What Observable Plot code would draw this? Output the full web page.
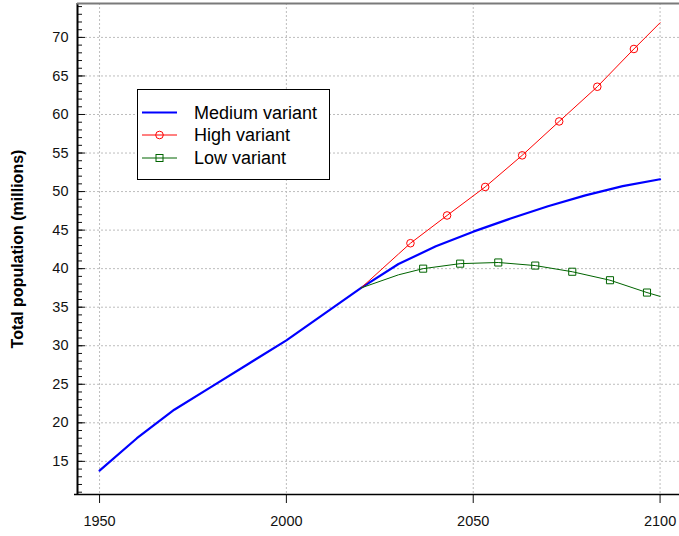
<!DOCTYPE html>
<html><head><meta charset="utf-8">
<script src="https://cdn.jsdelivr.net/npm/d3@7"></script>
<script src="https://cdn.jsdelivr.net/npm/@observablehq/plot@0.6"></script>
<style>
body{margin:0;background:#fff;}
#chart{position:relative;width:679px;height:536px;}
#chart svg text.tick{font-size:14.5px !important;font-family:'Liberation Sans', Arial, sans-serif !important;}
</style>
</head><body><div id="chart"></div>
<script>
// ---- data ----
const seriesNames = ["Medium variant", "High variant", "Low variant"];
const seriesColors = ["#0000ff", "#ff0000", "#006400"];

const mediumYears  = [1950, 1960, 1970, 1980, 1990, 2000, 2010, 2020, 2030, 2040, 2050, 2060, 2070, 2080, 2090, 2100];
const mediumValues = [13.8, 18.0, 21.7, 24.7, 27.7, 30.7, 34.1, 37.5, 40.6, 42.9, 44.8, 46.5, 48.1, 49.5, 50.7, 51.6];

const highLineYears  = [2020, 2030];
const highLineValues = [37.5, 41.9];
const highMarkerYears  = [2033.2, 2043.0, 2053.2, 2063.1, 2073.0, 2083.2, 2093.0];
const highMarkerValues = [43.3, 46.9, 50.6, 54.7, 59.1, 63.6, 68.5];
const highEndYear = 2100, highEndValue = 71.9;

const lowLineYears  = [2020, 2030];
const lowLineValues = [37.5, 39.2];
const lowMarkerYears  = [2036.6, 2046.5, 2056.7, 2066.6, 2076.5, 2086.6, 2096.5];
const lowMarkerValues = [40.0, 40.65, 40.8, 40.4, 39.6, 38.5, 36.9];
const lowEndYear = 2100, lowEndValue = 36.4;

const xTicks = [1950, 2000, 2050, 2100];
const yMajorTicks = [15, 20, 25, 30, 35, 40, 45, 50, 55, 60, 65, 70];
const yMinorTicks = d3.range(11, 75);
const xDomain = [1944.1, 2105.2];
const yDomain = [10.7, 74.4];
const yLabel = "Total population (millions)";

// ---- tables ----
const medium = mediumYears.map((y, i) => ({year: y, value: mediumValues[i]}));
const highMarkers = highMarkerYears.map((y, i) => ({year: y, value: highMarkerValues[i]}));
const lowMarkers = lowMarkerYears.map((y, i) => ({year: y, value: lowMarkerValues[i]}));
const high = highLineYears.map((y, i) => ({year: y, value: highLineValues[i]}))
  .concat(highMarkers, [{year: highEndYear, value: highEndValue}]);
const low = lowLineYears.map((y, i) => ({year: y, value: lowLineValues[i]}))
  .concat(lowMarkers, [{year: lowEndYear, value: lowEndValue}]);

const font = "'Liberation Sans', Arial, Helvetica, sans-serif";
const gridStyle = {stroke: "#bdbdbd", strokeOpacity: 1, strokeDasharray: "2,2", strokeWidth: 1};

const plot = Plot.plot({
  width: 679, height: 536,
  marginLeft: 77, marginRight: 0, marginTop: 3, marginBottom: 42,
  style: {fontFamily: font, fontSize: "14.5px", color: "#111", background: "#fff", overflow: "visible"},
  x: {domain: xDomain},
  y: {domain: yDomain},
  marks: [
    Plot.gridX(xTicks, gridStyle),
    Plot.gridY(yMajorTicks, gridStyle),
    Plot.line(medium, {x: "year", y: "value", stroke: seriesColors[0], strokeWidth: 2.2}),
    Plot.line(high, {x: "year", y: "value", stroke: seriesColors[1], strokeWidth: 1}),
    Plot.dot(highMarkers, {x: "year", y: "value", r: 3.8, stroke: seriesColors[1], fill: "none", strokeWidth: 1}),
    Plot.line(low, {x: "year", y: "value", stroke: seriesColors[2], strokeWidth: 1}),
    Plot.dot(lowMarkers, {x: "year", y: "value", r: 4, symbol: "square", stroke: seriesColors[2], fill: "none", strokeWidth: 1}),
    // y axis: labels, minor & major inward ticks
    Plot.axisY(yMajorTicks, {tickSize: 0, tickPadding: 9, label: null, fontSize: 14.5}),
    Plot.axisY(yMinorTicks, {tickSize: -5, tickFormat: () => "", label: null}),
    Plot.axisY(yMajorTicks, {tickSize: -8, tickFormat: () => "", label: null}),
    Plot.axisX(xTicks, {tickSize: 9, tickPadding: 12, tickFormat: d3.format("d"), label: null, fontSize: 14.5}),
    // frame lines
    Plot.ruleX([xDomain[0]], {stroke: "#000", strokeWidth: 2}),
    Plot.ruleY([yDomain[0]], {stroke: "#000", strokeWidth: 1.5, insetLeft: -3}),
    Plot.ruleY([yDomain[1]], {stroke: "#7a7a7a", strokeWidth: 2}),
    // y label
    Plot.text([yLabel], {frameAnchor: "left", rotate: -90, dx: -60, text: d => d,
      fontSize: 16, fontWeight: "bold", fill: "#000", lineAnchor: "middle", textAnchor: "middle"})
  ]
});
document.getElementById("chart").appendChild(plot);

// tick labels: force the reference size on every axis text
d3.select(plot).selectAll("g[aria-label*='axis'] text")
  .classed("tick", true)
  .attr("font-size", 14.5)
  .style("font-size", "14.5px");

// ---- legend (inside plot area, top-left) ----
const svg = d3.select(plot);
const lg = svg.append("g").attr("font-family", font).attr("font-size", 18).attr("text-anchor", "start");
lg.append("rect").attr("x", 137.5).attr("y", 89.5).attr("width", 192).attr("height", 90)
  .attr("fill", "#fff").attr("stroke", "#000").attr("stroke-width", 1);
const rowY = [112.5, 135, 158];
seriesNames.forEach((name, i) => {
  const yy = rowY[i];
  lg.append("line").attr("x1", 142).attr("x2", 177).attr("y1", yy).attr("y2", yy)
    .attr("stroke", seriesColors[i]).attr("stroke-width", i === 0 ? 2 : 1);
  if (i === 1) lg.append("circle").attr("cx", 159.5).attr("cy", yy).attr("r", 3.8)
    .attr("fill", "none").attr("stroke", seriesColors[i]);
  if (i === 2) lg.append("rect").attr("x", 156).attr("y", yy - 3.5).attr("width", 7).attr("height", 7)
    .attr("fill", "none").attr("stroke", seriesColors[i]);
  lg.append("text").attr("x", 194).attr("y", yy).attr("dy", "0.35em").attr("fill", "#000")
    .attr("text-anchor", "start").text(name);
});
</script>
</body></html>
